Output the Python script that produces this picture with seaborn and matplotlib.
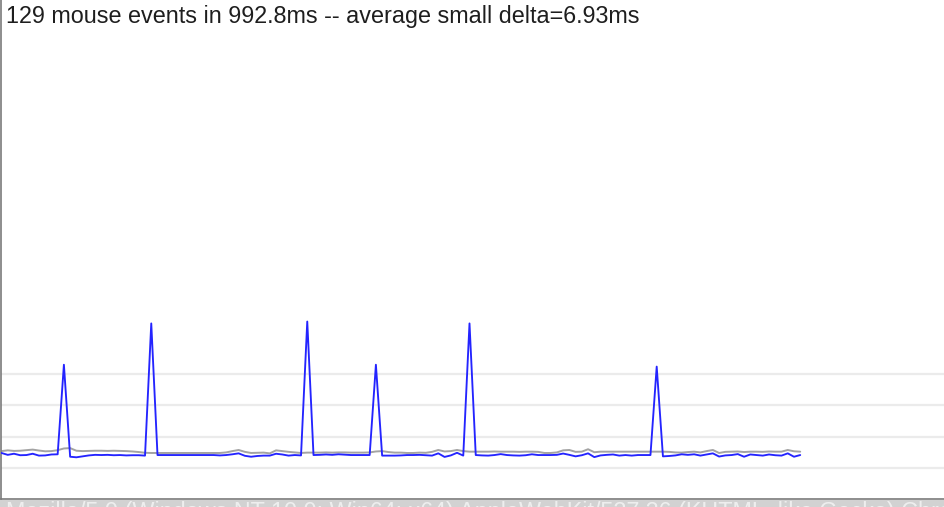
import numpy as np
import pandas as pd
import matplotlib
matplotlib.use("Agg")
import matplotlib.pyplot as plt
import seaborn as sns

# per-event delta in ms (blue) -- 129 mouse events
deltas = [
    8.0, 7.0, 7.6, 6.8, 6.9, 7.6, 6.6, 6.7, 7.2, 7.3,
    55.0, 6.0, 5.7, 6.2, 6.7, 7.0, 6.9, 7.0, 6.8, 6.9,
    6.7, 6.8, 6.8, 6.6, 77.0, 6.9, 6.9, 6.9, 6.9, 6.9,
    6.9, 6.9, 6.9, 6.9, 6.9, 6.7, 6.9, 7.3, 7.8, 6.5,
    6.0, 6.4, 6.6, 6.6, 7.6, 7.2, 6.6, 6.9, 6.7, 78.0,
    6.9, 7.0, 7.2, 7.0, 7.3, 7.1, 6.9, 6.9, 6.9, 6.9,
    55.0, 6.6, 6.6, 6.6, 6.7, 6.9, 6.9, 7.0, 6.8, 6.6,
    7.8, 5.9, 6.7, 8.1, 6.6, 77.0, 6.9, 6.7, 6.6, 6.9,
    7.4, 6.9, 6.7, 6.6, 6.8, 7.3, 6.9, 6.9, 6.9, 7.0,
    7.7, 7.0, 6.2, 6.8, 7.8, 5.8, 6.7, 7.0, 7.2, 6.6,
    6.9, 6.6, 6.9, 6.9, 6.9, 54.0, 6.2, 6.4, 6.7, 7.3,
    7.0, 7.3, 6.6, 7.2, 7.8, 6.1, 6.7, 6.9, 7.4, 6.0,
    7.2, 6.9, 6.6, 7.2, 6.8, 6.6, 7.8, 6.0, 6.9,
]

# smoothed reference series (gray)
smoothed = [
    9.0, 9.4, 9.1, 9.2, 9.5, 9.8, 9.3, 8.9, 9.0, 9.5,
    10.4, 10.6, 9.2, 9.0, 9.1, 9.2, 9.2, 9.1, 9.2, 9.1,
    9.0, 8.8, 8.5, 8.1, 8.0, 8.0, 8.0, 8.0, 8.0, 8.0,
    8.0, 8.0, 8.0, 8.0, 8.0, 8.0, 8.3, 9.0, 9.6, 8.6,
    8.0, 8.1, 8.2, 7.8, 9.4, 9.0, 8.6, 8.3, 8.0, 8.2,
    8.2, 8.2, 8.3, 8.2, 8.3, 8.3, 8.2, 8.2, 8.2, 8.3,
    8.8, 9.0, 8.5, 8.2, 8.2, 8.0, 8.0, 8.2, 8.1, 8.6,
    9.6, 8.8, 9.0, 9.6, 9.0, 8.7, 8.7, 8.7, 8.7, 8.8,
    8.7, 8.7, 8.7, 8.6, 8.7, 8.7, 8.6, 8.0, 8.0, 8.3,
    9.4, 9.6, 8.6, 8.7, 10.0, 8.4, 8.7, 8.7, 8.7, 8.7,
    8.7, 8.7, 8.7, 8.7, 8.7, 8.7, 8.7, 8.6, 8.3, 8.2,
    8.5, 8.7, 8.3, 9.0, 9.6, 8.0, 8.6, 8.7, 8.8, 8.5,
    8.7, 8.7, 8.6, 8.8, 8.7, 8.7, 9.6, 8.9, 8.7,
]

frame_lines = [0, 16.67, 33.33, 50.0]
title = "129 mouse events in 992.8ms -- average small delta=6.93ms"
user_agent = ("Mozilla/5.0 (Windows NT 10.0; Win64; x64) AppleWebKit/537.36 "
              "(KHTML, like Gecko) Chrome/80.0.4103.61 Safari/537.36")

df = pd.DataFrame({"event": np.arange(len(deltas)), "delta": deltas, "smoothed": smoothed})

sns.set_style("white")
plt.rcParams["font.family"] = ["Liberation Sans", "DejaVu Sans"]

W, H = 945, 507
fig = plt.figure(figsize=(W / 100, H / 100), dpi=100)
fig.patch.set_facecolor("white")

# plot area: x from 1px to right edge, y from top down to 499px
ax = fig.add_axes([1 / W, (H - 499) / H, 1 - 1 / W, 499 / H])

for v in frame_lines:
    ax.axhline(v, color="#ebebeb", lw=1.6, zorder=0)

sns.lineplot(data=df, x="event", y="smoothed", ax=ax, color="#a3a3a3", lw=1.4, zorder=2)
sns.lineplot(data=df, x="event", y="delta", ax=ax, color="#2424ff", lw=1.35, zorder=3)

# 0 ms sits at 468px, 16.67 ms spans ~31.3px
ms_per_px = 16.67 / 31.3
ax.set_ylim(-(499 - 468) * ms_per_px, 468 * ms_per_px)
px_per_evt = 6.24
ax.set_xlim(-0.08, (W - 1) / px_per_evt - 0.08)

ax.set_xticks([])
ax.set_yticks([])
ax.set_xlabel("")
ax.set_ylabel("")
for side in ["top", "right"]:
    ax.spines[side].set_visible(False)
for side in ["left", "bottom"]:
    ax.spines[side].set_color("#7a7a7a")
    ax.spines[side].set_linewidth(1.2)

fig.text(6 / W, 1 - 17 / H, title, fontsize=16.8, color="#1e1e1e", va="center", ha="left")

# faded page strip below the canvas (page text is cut off by the screenshot edge)
strip = plt.Rectangle((0, 0), 1, (H - 500) / H, transform=fig.transFigure,
                      facecolor="#d2d2d2", edgecolor="none", zorder=-1)
fig.patches.append(strip)
fig.text(6 / W, (H - 501) / H, user_agent, fontsize=16.8, color="#f2f2f2",
         va="top", ha="left", alpha=0.9)

fig.savefig("out.png", dpi=100, facecolor="white")
